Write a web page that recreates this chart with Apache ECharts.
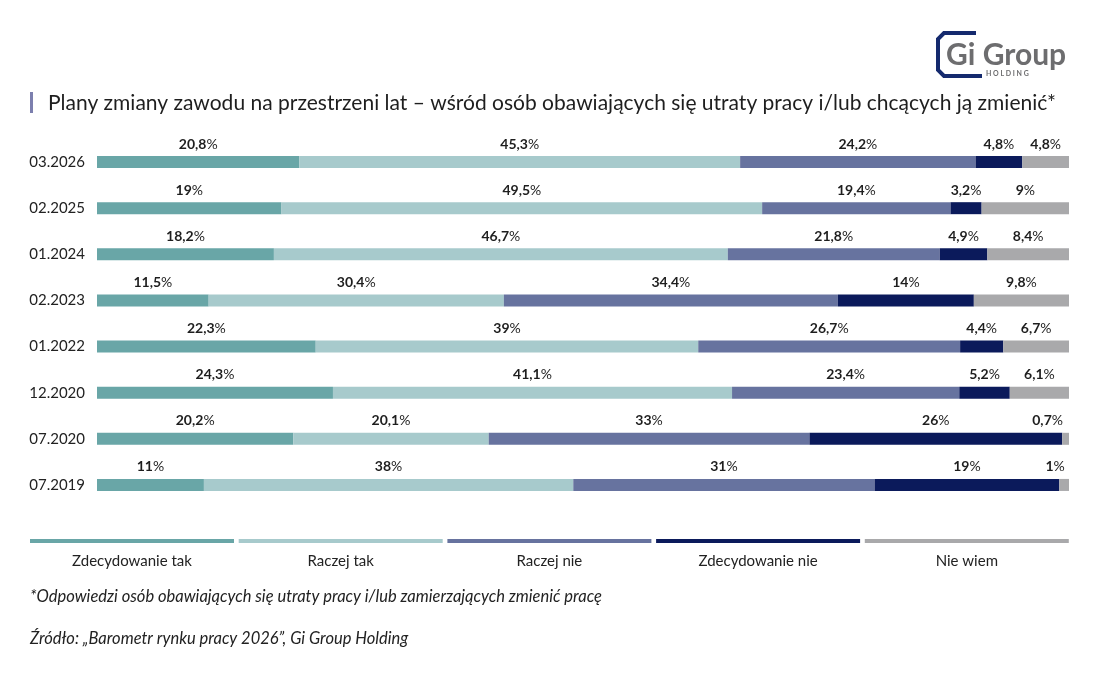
<!DOCTYPE html>
<html>
<head>
<meta charset="utf-8">
<script src="https://cdn.jsdelivr.net/npm/echarts@6/dist/echarts.min.js"></script>
<style>
  html, body { margin: 0; padding: 0; background: #fff; }
  #chart { width: 1100px; height: 675px; }
</style>
</head>
<body>
<div id="chart"></div>
<script>
// okresy badania (od góry)
const periods = ["03.2026", "02.2025", "01.2024", "02.2023", "01.2022", "12.2020", "07.2020", "07.2019"];
const seriesNames = ["Zdecydowanie tak", "Raczej tak", "Raczej nie", "Zdecydowanie nie", "Nie wiem"];
const colors = ["#69a6a7", "#a7cacc", "#67739f", "#0b1a5b", "#a9a9ab"];

const zdecydowanieTak = [20.8, 19, 18.2, 11.5, 22.3, 24.3, 20.2, 11];
const raczejTak = [45.3, 49.5, 46.7, 30.4, 39, 41.1, 20.1, 38];
const raczejNie = [24.2, 19.4, 21.8, 34.4, 26.7, 23.4, 33, 31];
const zdecydowanieNie = [4.8, 3.2, 4.9, 14, 4.4, 5.2, 26, 19];
const nieWiem = [4.8, 9, 8.4, 9.8, 6.7, 6.1, 0.7, 1];

const allValues = [zdecydowanieTak, raczejTak, raczejNie, zdecydowanieNie, nieWiem];

(function () {
  let dom = document.querySelector("#chart");
  let myChart = echarts.init(dom);

  const fmt = (v) => String(v).replace(".", ",");

  // suma w wierszu - paski zawsze wypełniają całą szerokość
  let totals = periods.map((p, i) => allValues.reduce((s, arr) => s + arr[i], 0));

  let series = seriesNames.map((name, k) => ({
    name: name,
    type: "bar",
    stack: "all",
    barWidth: 12,
    itemStyle: { color: colors[k] },
    data: allValues[k].map((v, i) => {
      let item = { value: v / totals[i] * 100, raw: v };
      // bardzo małe wartości przy prawej krawędzi - etykieta przesunięta w lewo
      if (v < 2) {
        item.label = { offset: [-(fmt(v) + "%").length * 4.5, 0] };
      }
      return item;
    }),
    label: {
      show: true,
      position: "top",
      distance: 5,
      formatter: (p) => "{b|" + fmt(p.data.raw) + "}{n|%}",
      rich: {
        b: { fontFamily: "Lato", fontWeight: "bold", fontSize: 14, color: "#1e1e1e" },
        n: { fontFamily: "Lato", fontSize: 14, color: "#1e1e1e" }
      }
    }
  }));

  // legenda: linia nad nazwą
  let legendGraphic = [];
  seriesNames.forEach((name, k) => {
    let x0 = 30 + k * 208.7;
    legendGraphic.push({
      type: "rect",
      shape: { x: x0, y: 539, width: 204, height: 4 },
      style: { fill: colors[k] }
    });
    legendGraphic.push({
      type: "text",
      x: x0 + 102,
      y: 561,
      style: {
        text: name, fill: "#222", font: "15px Lato",
        align: "center", verticalAlign: "middle"
      }
    });
  });

  let options = {
    animation: false,
    grid: { left: 97, right: 31, top: 139, bottom: 167 },
    xAxis: { type: "value", min: 0, max: 100, show: false },
    yAxis: {
      type: "category",
      data: periods,
      inverse: true,
      axisLine: { show: false },
      axisTick: { show: false },
      axisLabel: { color: "#222", fontFamily: "Lato", fontSize: 15, margin: 12 }
    },
    series: series,
    graphic: [
      // znacznik tytułu
      { type: "rect", shape: { x: 30, y: 92, width: 3, height: 21 }, style: { fill: "#7c7fae" } },
      {
        type: "text", x: 48, y: 103,
        style: {
          text: "Plany zmiany zawodu na przestrzeni lat – wśród osób obawiających się utraty pracy i/lub chcących ją zmienić*",
          fill: "#1e1e1e", font: "21px Lato", verticalAlign: "middle"
        }
      },
      // logo
      {
        type: "polyline",
        shape: { points: [[976, 33], [944, 33], [938, 39], [938, 70], [944, 76], [982, 76]] },
        style: { stroke: "#152a6e", lineWidth: 4, fill: null }
      },
      {
        type: "text", x: 946, y: 55,
        style: { text: "Gi Group", fill: "#6d6d6f", font: "bold 30px Lato", verticalAlign: "middle" }
      },
      {
        type: "text", x: 986, y: 74,
        style: { text: "H O L D I N G", fill: "#6d6d6f", font: "bold 7px Lato", verticalAlign: "middle" }
      },
      // przypisy
      {
        type: "text", x: 30, y: 597,
        style: {
          text: "*Odpowiedzi osób obawiających się utraty pracy i/lub zamierzających zmienić pracę",
          fill: "#222", font: "italic 16.5px Lato", verticalAlign: "middle"
        }
      },
      {
        type: "text", x: 30, y: 639,
        style: {
          text: "Źródło: „Barometr rynku pracy 2026”, Gi Group Holding",
          fill: "#222", font: "italic 16.5px Lato", verticalAlign: "middle"
        }
      }
    ].concat(legendGraphic)
  };
  myChart.setOption(options);
  window.addEventListener("resize", () => {
    myChart.resize();
  });
})();
</script>
</body>
</html>
